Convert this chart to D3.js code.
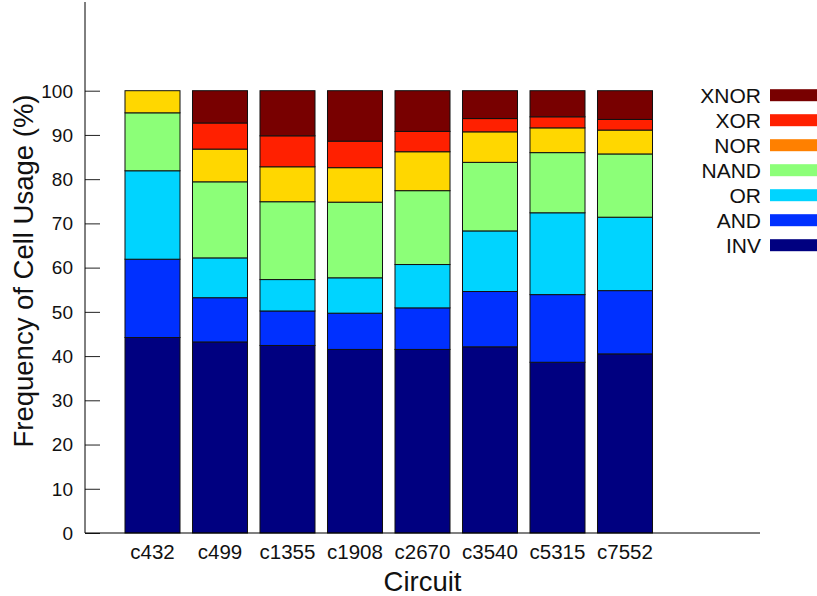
<!DOCTYPE html>
<html>
<head>
<meta charset="utf-8">
<script src="https://cdn.jsdelivr.net/npm/d3@7"></script>
<style>
	body { margin: 0; background: white; }
	text { font-family: "Liberation Sans", Arial, sans-serif; fill: #111; }
</style>
</head>
<body>
<script>

/* cell usage per circuit, percent of each gate type (stacked, bottom to top) */

var circuits = ['c432', 'c499', 'c1355', 'c1908', 'c2670', 'c3540', 'c5315', 'c7552'];
var cells = ['INV', 'AND', 'OR', 'NAND', 'NOR', 'XOR', 'XNOR'];

var INV  = [44.2, 43.2, 42.4, 41.5, 41.5, 42.1, 38.6, 40.5];
var AND  = [17.7, 10.0,  7.8,  8.2,  9.4, 12.5, 15.3, 14.3];
var OR   = [20.0,  9.0,  7.1,  8.0,  9.8, 13.7, 18.5, 16.6];
var NAND = [13.1, 17.2, 17.6, 17.1, 16.7, 15.5, 13.6, 14.3];
var NOR  = [ 5.0,  7.4,  7.9,  7.8,  8.8,  6.9,  5.6,  5.4];
var XOR  = [ 0.0,  5.9,  7.0,  6.0,  4.6,  3.0,  2.5,  2.4];
var XNOR = [ 0.0,  7.3, 10.2, 11.4,  9.2,  6.3,  5.9,  6.5];

var yTicks = [0, 10, 20, 30, 40, 50, 60, 70, 80, 90, 100];

	function draw() {

		var width = 817;
		var height = 596;

		// plot area
		var left = 85, right = 760, top = 2, bottom = 533;

		// bar fills vs legend swatches (NOR differs in the original)
		var barColors = ['#000080', '#0030ff', '#00d4ff', '#8cff78', '#ffd700', '#ff2000', '#780000'];
		var keyColors = ['#000080', '#0030ff', '#00d4ff', '#8cff78', '#ff8000', '#ff2000', '#780000'];

		var series = [INV, AND, OR, NAND, NOR, XOR, XNOR];

		var table = circuits.map(function(c, i) {
			var row = { circuit: c, idx: i };
			cells.forEach(function(k, j) { row[k] = series[j][i]; });
			return row;
		});

		var stacked = d3.stack().keys(cells)(table);

		// scales
		var xScale = d3.scaleLinear()
					.domain([-1, 9])
					.range([left, right]);

		var yScale = d3.scaleLinear()
					.domain([0, 100])
					.range([bottom, 90.7]);

		var barW = (xScale(1) - xScale(0)) * 0.815;

		var svg = d3.select("body")
			.append("svg")
				.attr("width", width)
				.attr("height", height);

		// draw stacked bars
		svg.selectAll("g.layer")
			.data(stacked)
			.enter()
			.append("g")
				.attr("class", "layer")
				.attr("fill", (d, i) => barColors[i])
			.selectAll("rect")
			.data(d => d.filter(p => p[1] - p[0] > 0))
			.enter()
			.append("rect")
				.attr("x", d => xScale(d.data.idx) - barW / 2)
				.attr("y", d => yScale(d[1]))
				.attr("width", barW)
				.attr("height", d => yScale(d[0]) - yScale(d[1]))
				.attr("stroke", "#111")
				.attr("stroke-width", 1);

		// y axis, ticks point inward
		var yAxis = d3.axisRight(yScale)
			.tickValues(yTicks)
			.tickSize(15)
			.tickFormat("");
		var yg = svg.append("g")
			.attr("transform", "translate(" + left + ",0)")
			.call(yAxis);
		yg.select(".domain").remove();
		yg.selectAll(".tick line").attr("stroke", "#222");

		svg.append("line")
			.attr("x1", left).attr("x2", left)
			.attr("y1", top).attr("y2", bottom)
			.attr("stroke", "black");

		svg.append("g")
			.selectAll("text")
			.data(yTicks)
			.enter()
			.append("text")
				.attr("x", 73)
				.attr("y", d => yScale(d))
				.attr("dy", "0.36em")
				.attr("text-anchor", "end")
				.style("font-size", "19px")
				.text(d => d);

		// x axis
		svg.append("line")
			.attr("x1", left).attr("x2", right)
			.attr("y1", bottom).attr("y2", bottom)
			.attr("stroke", "black");

		svg.append("g")
			.selectAll("text")
			.data(circuits)
			.enter()
			.append("text")
				.attr("x", (d, i) => xScale(i))
				.attr("y", 559)
				.attr("text-anchor", "middle")
				.style("font-size", "20.5px")
				.text(d => d);

		// axis titles
		svg.append("text")
			.attr("x", (left + right) / 2)
			.attr("y", 591)
			.attr("text-anchor", "middle")
			.style("font-size", "27.5px")
			.text("Circuit");

		svg.append("text")
			.attr("transform", "translate(33," + 271 + ") rotate(-90)")
			.attr("text-anchor", "middle")
			.style("font-size", "27.5px")
			.text("Frequency of Cell Usage (%)");

		// legend, top to bottom
		var keyOrder = cells.slice().reverse();
		var legend = svg.append("g")
			.selectAll("g")
			.data(keyOrder)
			.enter()
			.append("g")
				.attr("transform", (d, i) => "translate(0," + (95.2 + i * 25) + ")");

		legend.append("text")
			.attr("x", 761)
			.attr("dy", "0.36em")
			.attr("text-anchor", "end")
			.style("font-size", "21px")
			.text(d => d);

		legend.append("rect")
			.attr("x", 770)
			.attr("y", -6)
			.attr("width", 47)
			.attr("height", 12)
			.attr("fill", d => keyColors[cells.indexOf(d)]);
	}

	draw();
</script>
</body>
</html>
